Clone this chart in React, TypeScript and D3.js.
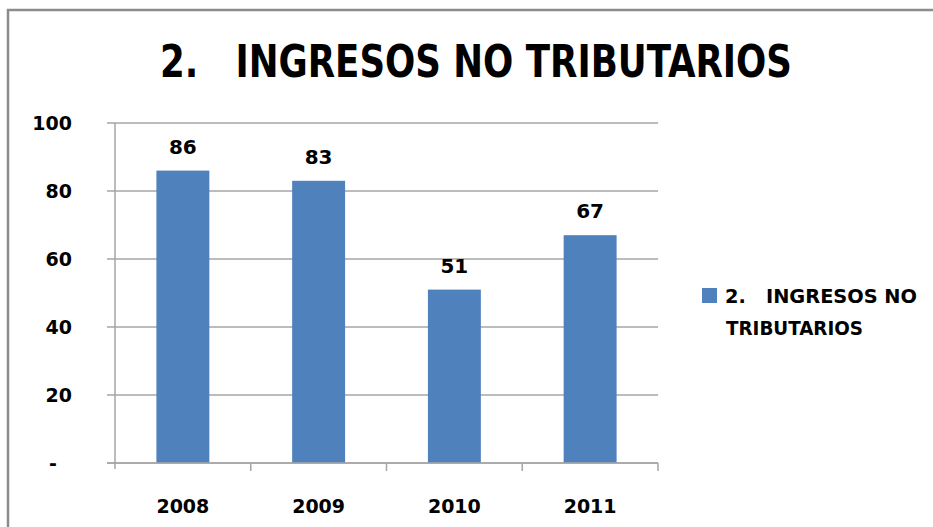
import React from "react";
import * as d3 from "d3";

const years = ["2008", "2009", "2010", "2011"];
const values = [86, 83, 51, 67];
const yTicks = [0, 20, 40, 60, 80, 100];
const title = "2.   INGRESOS NO TRIBUTARIOS";
const legendLines = ["2.   INGRESOS NO", "TRIBUTARIOS"];

const W = 933, H = 527;
const plot = { left: 115, right: 658, top: 123, bottom: 463 };
const barColor = "#4F81BD";
const gridColor = "#A6A6A6";
const numFont = "'DejaVu Sans', sans-serif";
const narrowFont = "'DejaVu Sans Condensed', 'DejaVu Sans', sans-serif";

export default function App() {
  const x = d3.scaleBand<string>()
    .domain(years)
    .range([plot.left, plot.right])
    .paddingInner(0.61)
    .paddingOuter(0.305);

  // band for the category ticks (full width per category)
  const cat = d3.scaleBand<string>().domain(years).range([plot.left, plot.right]);

  const y = d3.scaleLinear().domain([0, 100]).range([plot.bottom, plot.top]);

  return (
    <svg width={W} height={H} style={{ position: "absolute", left: 0, top: 0, background: "#fff" }}>
      {/* chart frame */}
      <rect x={8} y={10} width={W + 20} height={H + 20} fill="#fff" stroke="#8c8c8c" strokeWidth={2.5} />

      {/* title */}
      <text x={476} y={77} textAnchor="middle" fontFamily={narrowFont} fontWeight="bold" fontSize={44}
        textLength={632} lengthAdjust="spacingAndGlyphs" style={{ whiteSpace: "pre" }}>
        {title}
      </text>

      {/* gridlines + y ticks */}
      {yTicks.map(t => (
        <g key={t}>
          <line x1={plot.left - 8} x2={plot.right} y1={y(t)} y2={y(t)} stroke={gridColor} strokeWidth={1.5} />
          <text x={t === 0 ? 57 : 72} y={y(t)} dy="0.36em" textAnchor="end" fontFamily={numFont}
            fontWeight="bold" fontSize={19} fill="#000">
            {t === 0 ? "-" : t}
          </text>
        </g>
      ))}

      {/* y axis line */}
      <line x1={plot.left} x2={plot.left} y1={plot.top} y2={plot.bottom + 6} stroke={gridColor} strokeWidth={1.5} />

      {/* bars */}
      {years.map((yr, i) => (
        <g key={yr}>
          <rect x={x(yr)} y={y(values[i])} width={x.bandwidth()} height={y(0) - y(values[i])} fill={barColor} />
          <text x={(x(yr) as number) + x.bandwidth() / 2} y={y(values[i]) - 17} textAnchor="middle"
            fontFamily={numFont} fontWeight="bold" fontSize={20} fill="#000">
            {values[i]}
          </text>
        </g>
      ))}

      {/* x axis line and category ticks */}
      <line x1={plot.left - 8} x2={plot.right} y1={plot.bottom} y2={plot.bottom} stroke={gridColor} strokeWidth={1.5} />
      {years.map(yr => (
        <line key={"t" + yr} x1={(cat(yr) as number) + cat.bandwidth()} x2={(cat(yr) as number) + cat.bandwidth()}
          y1={plot.bottom} y2={plot.bottom + 8} stroke={gridColor} strokeWidth={1.5} />
      ))}
      {years.map(yr => (
        <text key={"l" + yr} x={(cat(yr) as number) + cat.bandwidth() / 2} y={513} textAnchor="middle"
          fontFamily={numFont} fontWeight="bold" fontSize={19} fill="#000">
          {yr}
        </text>
      ))}

      {/* legend */}
      <rect x={702} y={288} width={15} height={15} fill={barColor} />
      <text x={725} y={303} fontFamily={narrowFont} fontWeight="bold" fontSize={20}
        textLength={192} lengthAdjust="spacingAndGlyphs" style={{ whiteSpace: "pre" }}>
        {legendLines[0]}
      </text>
      <text x={726} y={335} fontFamily={narrowFont} fontWeight="bold" fontSize={20}
        textLength={137} lengthAdjust="spacingAndGlyphs">
        {legendLines[1]}
      </text>
    </svg>
  );
}
